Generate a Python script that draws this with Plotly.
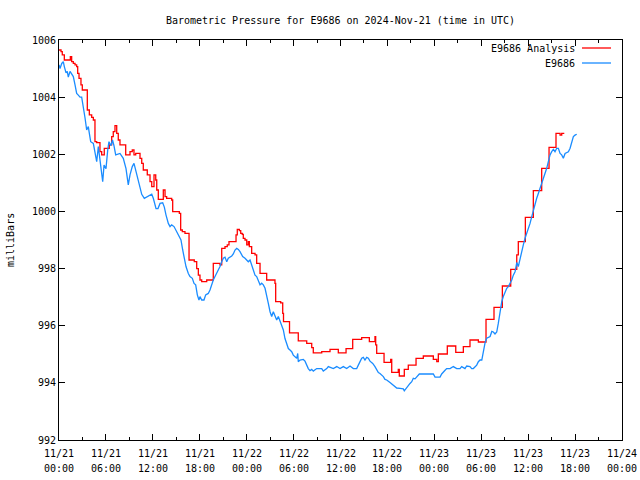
import pandas as pd
import plotly.graph_objects as go

# ---- data (hours after 2024-11-21 00:00 UTC, pressure in mb) ----
analysis_hours = [0, 0.26, 0.42, 0.68, 1.45, 1.62, 1.83, 2.05, 2.26, 2.39, 2.56, 2.81, 2.98, 3.62, 3.88, 4.18,
                  4.39, 4.60, 4.82, 5.24, 5.46, 5.79, 6.43, 6.74, 6.94, 7.16, 7.38, 7.58, 7.80, 8.53, 9.08, 9.37,
                  9.59, 9.81, 10.36, 10.58, 10.78, 11.29, 11.64, 11.86, 12.15, 12.37, 12.50, 12.70, 13.34, 13.56,
                  13.77, 14.41, 14.54, 15.39, 15.56, 15.77, 16.11, 16.63, 17.30, 17.61, 17.82, 18.03, 18.25, 18.89,
                  19.73, 20.59, 20.81, 21.23, 21.52, 21.74, 22.64, 22.80, 23.06, 23.24, 23.44, 23.57, 23.79, 24.01,
                  24.21, 24.34, 24.64, 25.07, 25.28, 25.71, 26.56, 27.62, 27.71, 28.35, 28.61, 28.71, 29.48, 30.60,
                  31.68, 32.32, 32.52, 33.60, 34.66, 35.72, 36.71, 37.56, 38.71, 39.69, 40.41, 40.50, 40.63, 41.57,
                  42.42, 42.55, 43.39, 43.52, 44.16, 44.67, 45.66, 46.59, 47.87, 48.31, 48.51, 49.66, 50.74, 51.71,
                  52.56, 53.63, 54.61, 55.63, 56.70, 57.77, 58.54, 58.74, 59.64, 60.66, 61.73, 62.67, 63.56, 64.08,
                  64.29, 64.62]
analysis_mb = [1005.65, 1005.59, 1005.48, 1005.30, 1005.42, 1005.24, 1005.18, 1005.13, 1005.07, 1004.83, 1004.66,
               1004.43, 1004.25, 1003.55, 1003.38, 1003.29, 1003.20, 1002.44, 1002.41, 1002.09, 1001.98, 1002.21,
               1002.33, 1002.62, 1002.79, 1003.00, 1002.73, 1002.50, 1002.33, 1001.98, 1002.09, 1002.15, 1001.98,
               1002.03, 1001.86, 1001.68, 1001.45, 1001.28, 1001.04, 1000.87, 1001.28, 1001.10, 1000.75, 1000.42,
               1000.75, 1000.52, 1000.46, 1000.40, 999.99, 999.93, 999.35, 999.29, 999.23, 998.30, 998.24, 998.00,
               997.77, 997.60, 997.54, 997.60, 998.18, 998.13, 998.71, 998.77, 998.83, 998.94, 999.18, 999.37,
               999.33, 999.23, 999.20, 999.06, 999.00, 998.83, 998.94, 998.77, 998.53, 998.48, 998.18, 997.83,
               997.60, 997.48, 996.84, 996.80, 996.43, 996.14, 995.75, 995.47, 995.38, 995.23, 995.05, 995.09,
               995.17, 995.05, 995.20, 995.52, 995.58, 995.44, 995.62, 995.33, 995.03, 994.72, 994.82, 994.37,
               994.47, 994.24, 994.47, 994.62, 994.86, 994.94, 994.82, 994.74, 995.01, 995.29, 995.07, 995.27,
               995.50, 995.43, 996.22, 996.64, 997.39, 997.97, 998.48, 998.94, 999.79, 1000.73, 1001.51, 1002.24,
               1002.73, 1002.67, 1002.73, 1002.73]

station_hours = [0, 0.13, 0.35, 0.55, 0.68, 0.90, 1.06, 1.19, 1.41, 1.62, 1.83, 2.05, 2.26, 2.47, 2.69, 2.90, 3.11,
                 3.33, 3.54, 3.75, 3.88, 4.05, 4.39, 4.60, 4.82, 5.03, 5.24, 5.46, 5.59, 5.76, 6.01, 6.23, 6.39,
                 6.65, 6.84, 7.03, 7.25, 7.80, 8.22, 8.57, 8.86, 9.08, 9.37, 9.59, 9.94, 10.23, 10.58, 10.91, 11.25,
                 11.64, 11.86, 12.06, 12.41, 12.66, 12.92, 13.26, 13.47, 13.68, 13.98, 14.20, 14.41, 14.71, 15.05,
                 15.39, 15.60, 15.82, 16.03, 16.24, 16.54, 16.75, 17.05, 17.27, 17.48, 17.69, 17.90, 18.03, 18.25,
                 18.54, 18.76, 19.09, 19.31, 19.53, 19.73, 19.95, 20.17, 20.37, 20.59, 20.81, 21.01, 21.23, 21.45,
                 21.65, 22.09, 22.29, 22.51, 22.73, 22.93, 23.15, 23.49, 23.79, 24.21, 24.43, 24.64, 24.85, 25.07,
                 25.28, 25.49, 25.71, 25.92, 26.13, 26.35, 26.56, 26.77, 26.99, 27.20, 27.41, 27.62, 27.84, 28.05,
                 28.26, 28.48, 28.69, 28.90, 29.12, 29.33, 29.54, 29.76, 29.96, 30.18, 30.40, 30.53, 30.60, 30.82,
                 31.24, 31.46, 31.68, 31.88, 32.10, 32.32, 32.52, 32.96, 33.60, 33.80, 34.24, 34.44, 35.08, 35.52,
                 35.94, 36.36, 36.79, 37.22, 37.64, 38.07, 38.28, 38.50, 38.71, 38.92, 39.13, 39.35, 39.56, 39.77,
                 40.12, 40.41, 40.63, 40.84, 41.05, 41.27, 41.48, 41.69, 41.91, 42.33, 42.75, 43.19, 43.61, 44.03,
                 44.16, 44.38, 44.67, 44.89, 45.11, 45.31, 45.53, 45.75, 46.08, 47.03, 47.87, 48.09, 48.73, 48.94,
                 49.15, 49.37, 49.58, 50.01, 50.43, 50.86, 51.28, 51.50, 51.92, 52.14, 52.56, 52.78, 52.99, 53.20,
                 53.42, 53.63, 53.85, 54.07, 54.27, 54.49, 54.70, 55.13, 55.35, 55.55, 55.76, 55.98, 56.18, 56.40,
                 56.62, 56.82, 57.04, 57.26, 57.46, 57.68, 57.90, 58.10, 58.32, 58.45, 58.54, 58.74, 58.96, 59.18,
                 59.38, 59.60, 59.82, 60.02, 60.24, 60.46, 60.66, 60.87, 61.09, 61.30, 61.52, 61.73, 61.94, 62.15,
                 62.37, 62.58, 62.80, 63.01, 63.22, 63.43, 63.65, 63.86, 64.08, 64.29, 64.50, 64.72, 65.14, 65.36,
                 65.57, 65.78, 65.99, 66.21]
station_mb = [1005.13, 1005.00, 1005.18, 1005.24, 1005.07, 1004.85, 1004.90, 1004.70, 1004.90, 1004.78, 1004.72,
              1004.43, 1004.13, 1004.07, 1004.00, 1004.00, 1003.55, 1003.27, 1002.85, 1002.97, 1002.73, 1002.44,
              1002.38, 1002.03, 1001.74, 1002.27, 1001.80, 1001.22, 1001.04, 1001.62, 1001.50, 1002.15, 1002.44,
              1002.30, 1002.50, 1002.30, 1001.98, 1002.03, 1001.86, 1001.50, 1000.93, 1001.28, 1001.57, 1001.68,
              1001.28, 1000.93, 1000.60, 1000.46, 1000.50, 1000.55, 1000.60, 1000.46, 1000.10, 1000.10, 1000.28,
              1000.30, 1000.15, 999.88, 999.58, 999.47, 999.53, 999.47, 999.29, 999.12, 999.00, 998.65, 998.36,
              998.07, 997.83, 997.72, 997.66, 997.48, 997.43, 997.08, 996.90, 997.02, 996.90, 996.90, 997.08,
              997.13, 997.25, 997.48, 997.60, 997.72, 997.83, 997.95, 998.07, 998.24, 998.36, 998.40, 998.24,
              998.36, 998.44, 998.51, 998.65, 998.71, 998.67, 998.59, 998.42, 998.36, 998.24, 998.30, 998.12,
              997.95, 997.77, 997.72, 997.54, 997.43, 997.49, 997.43, 997.31, 997.08, 996.78, 996.49, 996.32,
              996.49, 996.32, 996.20, 996.32, 996.17, 996.05, 995.85, 995.55, 995.33, 995.20, 995.15, 995.09,
              994.97, 994.92, 994.86, 995.03, 994.74, 994.80, 994.82, 994.76, 994.62, 994.50, 994.43, 994.47,
              994.41, 994.50, 994.50, 994.41, 994.50, 994.57, 994.50, 994.57, 994.50, 994.57, 994.50, 994.59,
              994.50, 994.50, 994.62, 994.74, 994.86, 994.89, 994.80, 994.89, 994.86, 994.76, 994.68, 994.57,
              994.45, 994.36, 994.33, 994.28, 994.22, 994.12, 994.10, 994.01, 993.91, 993.82, 993.81, 993.79,
              993.72, 993.81, 993.91, 993.98, 994.04, 994.16, 994.14, 994.20, 994.31, 994.31, 994.31, 994.20,
              994.20, 994.31, 994.39, 994.44, 994.50, 994.50, 994.57, 994.50, 994.50, 994.57, 994.50, 994.59,
              994.57, 994.50, 994.50, 994.57, 994.62, 994.74, 994.80, 994.80, 995.10, 995.41, 995.56, 995.62,
              995.80, 995.78, 995.71, 995.78, 996.08, 996.49, 996.84, 997.02, 997.19, 997.31, 997.37, 997.48,
              997.60, 997.77, 997.89, 998.07, 998.21, 998.07, 998.36, 998.59, 998.83, 999.06, 999.23, 999.41,
              999.58, 999.82, 1000.05, 1000.28, 1000.46, 1000.63, 1000.81, 1000.93, 1001.10, 1001.28, 1001.51,
              1001.74, 1001.98, 1002.09, 1002.17, 1002.09, 1002.21, 1002.21, 1002.03, 1001.98, 1001.86, 1002.03,
              1002.09, 1002.21, 1002.44, 1002.62, 1002.67, 1002.70]

series_names = ["E9686 Analysis", "E9686"]
series_colors = ["#ff0000", "#1a8cff"]
tick_hours = [0, 6, 12, 18, 24, 30, 36, 42, 48, 54, 60, 66, 72]
tick_dates = ["11/21", "11/21", "11/21", "11/21", "11/22", "11/22", "11/22", "11/22",
              "11/23", "11/23", "11/23", "11/23", "11/24"]
tick_times = ["00:00", "06:00", "12:00", "18:00", "00:00", "06:00", "12:00", "18:00",
              "00:00", "06:00", "12:00", "18:00", "00:00"]
y_ticks = [992, 994, 996, 998, 1000, 1002, 1004, 1006]

base = pd.Timestamp("2024-11-21 00:00")


def to_time(hours):
    return [base + pd.Timedelta(hours=h) for h in hours]


FONT = "DejaVu Sans Mono"
L, R, T, B = 59, 18, 40, 40
PW, PH = 640 - L - R, 480 - T - B
TXT = dict(family=FONT, size=10, color="black")

fig = go.Figure()
fig.add_trace(go.Scatter(x=to_time(analysis_hours), y=analysis_mb, mode="lines",
                         line=dict(color=series_colors[0], width=1.3, shape="hv"),
                         name=series_names[0], showlegend=False))
fig.add_trace(go.Scatter(x=to_time(station_hours), y=station_mb, mode="lines",
                         line=dict(color=series_colors[1], width=1.3),
                         name=series_names[1], showlegend=False))

# gnuplot-style legend: text right-aligned, line sample to the right
for i, (nm, col) in enumerate(zip(series_names, series_colors)):
    yy = 1 - (8 + 15 * i) / PH
    fig.add_annotation(x=(577 - L) / PW, y=yy, xref="paper", yref="paper",
                       text=nm, showarrow=False, xanchor="right", yanchor="middle", font=TXT)
    fig.add_shape(type="line", xref="paper", yref="paper",
                  x0=(582 - L) / PW, x1=(611 - L) / PW, y0=yy, y1=yy,
                  line=dict(color=col, width=1.3))

# two-line x tick labels (gnuplot spacing)
for t, d, tm in zip(to_time(tick_hours), tick_dates, tick_times):
    fig.add_annotation(x=t, y=-13 / PH, xref="x", yref="paper", text=d, showarrow=False,
                       xanchor="center", yanchor="middle", font=TXT)
    fig.add_annotation(x=t, y=-28 / PH, xref="x", yref="paper", text=tm, showarrow=False,
                       xanchor="center", yanchor="middle", font=TXT)

# y-axis title
fig.add_annotation(x=(10 - L) / PW, y=0.5, xref="paper", yref="paper", text="milliBars",
                   textangle=-90, showarrow=False, xanchor="center", yanchor="middle", font=TXT)

fig.update_layout(
    width=640, height=480,
    margin=dict(l=L, r=R, t=T, b=B, autoexpand=False),
    paper_bgcolor="white", plot_bgcolor="white",
    title=dict(text="Barometric Pressure for E9686 on 2024-Nov-21 (time in UTC)",
               x=0.5, xref="paper", xanchor="center", y=1 - 20 / 480, yref="container",
               yanchor="middle", automargin=False, font=TXT),
    font=TXT,
    showlegend=False,
)
fig.update_xaxes(
    type="date", automargin=False,
    range=[base, base + pd.Timedelta(hours=72)],
    tickvals=to_time(tick_hours), showticklabels=False,
    ticks="inside", ticklen=6, tickcolor="black",
    showline=True, linecolor="black", linewidth=1, mirror="ticks",
    showgrid=False, zeroline=False,
    minor=dict(ticks="inside", ticklen=3, dtick=3 * 3600 * 1000, tickcolor="black", showgrid=False),
)
fig.update_yaxes(
    automargin=False,
    range=[992, 1006], tickvals=y_ticks, ticktext=[str(v) for v in y_ticks],
    ticks="inside", ticklen=6, tickcolor="black",
    showline=True, linecolor="black", linewidth=1, mirror="ticks",
    showgrid=False, zeroline=False,
    tickfont=TXT,
)

fig.write_html("out.html", config={"displayModeBar": False},
               post_script="document.body.style.margin='0';")
